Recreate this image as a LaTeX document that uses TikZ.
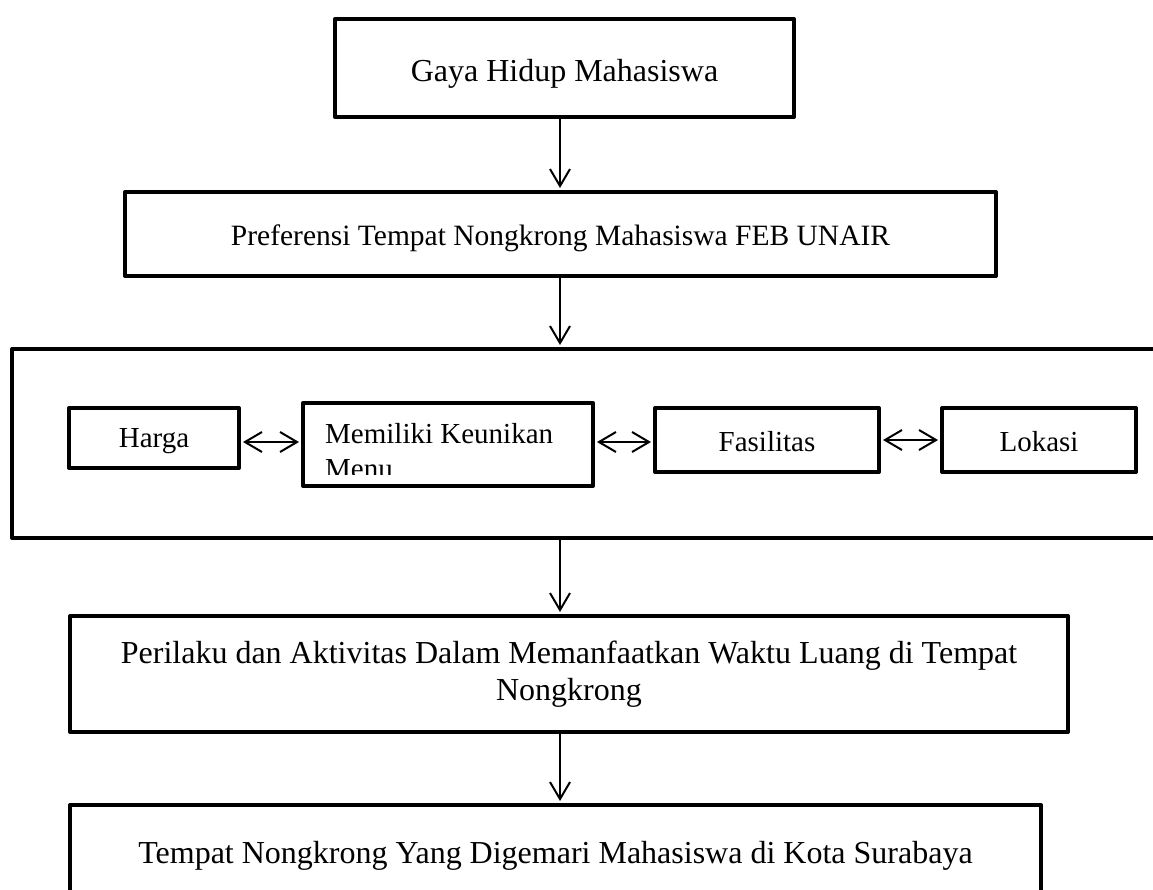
\documentclass[tikz,border=0pt]{standalone}
\usepackage{fontspec}
\setmainfont{Liberation Serif}
\usetikzlibrary{arrows.meta}
\begin{document}
\begin{tikzpicture}[x=1pt,y=-1pt,
  box/.style={draw, line width=4pt, rectangle, inner sep=0pt, line join=round, align=center},
  bigtxt/.style={font=\fontsize{32}{37}\selectfont},
  midtxt/.style={font=\fontsize{29.5}{35}\selectfont},
  smalltxt/.style={font=\fontsize{29}{35.5}\selectfont},
  capc/.style={text height=#1, text depth=0pt},
  arr/.style={line width=2pt, -{Straight Barb[length=17pt,width=20pt]}, shorten >=2pt},
  darr/.style={line width=2pt, {Straight Barb[length=17pt,width=20pt]}-{Straight Barb[length=17pt,width=20pt]}, shorten >=2pt, shorten <=2pt}]
\clip (0,0) rectangle (1153,889);
\coordinate (ax) at (560,0);
\coordinate (ay) at (0,442);
% main boxes
\node[box, bigtxt, capc=27pt, minimum width=459pt, minimum height=98pt] (b1) at (564.5,68) {Gaya Hidup Mahasiswa};
\node[box, midtxt, capc=22.5pt, minimum width=871pt, minimum height=84pt] (b2) at (560.5,234) {Preferensi Tempat Nongkrong Mahasiswa FEB UNAIR};
\node[box, minimum width=1153pt, minimum height=189pt] (big) at (588.5,443.5) {};
\node[box, bigtxt, minimum width=998pt, minimum height=116pt] (b4) at (569,674) {Perilaku dan Aktivitas Dalam Memanfaatkan Waktu Luang di Tempat\\Nongkrong};
\node[box, bigtxt, capc=21.5pt, minimum width=971pt, minimum height=95pt] (b5) at (555.5,852.5) {Tempat Nongkrong Yang Digemari Mahasiswa di Kota Surabaya};
% inner boxes
\node[box, smalltxt, capc=19.5pt, minimum width=170pt, minimum height=60pt] (harga) at (154,438) {Harga};
\node[box, minimum width=290pt, minimum height=83pt] (mem) at (448,444.5) {};
\begin{scope}
  \clip (305,405) rectangle (591,474);
  \node[smalltxt, anchor=north west, inner sep=0pt, align=left] (memtxt) at (325,423) {Memiliki Keunikan\\Menu};
\end{scope}
\node[box, smalltxt, capc=23pt, minimum width=224pt, minimum height=64pt] (fas) at (767,440) {Fasilitas};
\node[box, smalltxt, capc=23pt, minimum width=194pt, minimum height=64pt] (lok) at (1039,440) {Lokasi};
% connectors
\draw[arr] (b1.south -| ax) -- (b2.north -| ax);
\draw[arr] (b2.south -| ax) -- (big.north -| ax);
\draw[arr] (big.south -| ax) -- (b4.north -| ax);
\draw[arr] (b4.south -| ax) -- (b5.north -| ax);
\draw[darr] (harga.east |- ay) -- (mem.west |- ay);
\draw[darr] (mem.east |- ay) -- (fas.west |- ay);
\draw[darr] (fas.east) -- (lok.west);
\end{tikzpicture}
\end{document}
